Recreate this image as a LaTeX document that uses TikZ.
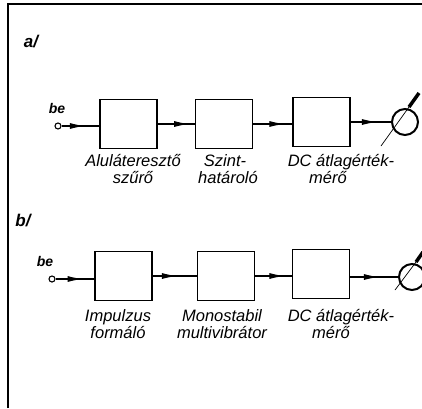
\documentclass[tikz,border=0pt]{standalone}
\usepackage{fontspec}
\setmainfont{Liberation Sans}
\usetikzlibrary{arrows.meta,decorations.markings}
\tikzset{
  x=1pt,y=-1pt,
  blk/.style={draw,line width=1.7pt,minimum width=57pt,minimum height=49pt,inner sep=0pt},
  lbl/.style={font=\itshape\fontsize{16.5}{16.5}\selectfont,align=center,anchor=base,inner sep=0pt},
  conn/.style={line width=1.1pt},
  midarrow/.style={postaction={decorate},decoration={markings,mark=at position #1 with {\arrow{Latex[length=15pt,width=6pt]}}}},
  terminal/.style={draw,circle,line width=1.1pt,minimum size=6pt,inner sep=0pt},
  meter/.style={draw,circle,line width=2pt,minimum size=26pt,inner sep=0pt},
  tag/.style={font=\itshape\bfseries\fontsize{17}{18}\selectfont,inner sep=0pt},
  betag/.style={font=\itshape\bfseries\fontsize{14}{15}\selectfont,inner sep=0pt}
}
\begin{document}
\begin{tikzpicture}
\useasboundingbox (0,0) rectangle (422,408);
\fill[white] (0,0) rectangle (422,408);
% frame
\draw[line width=1.3pt] (8,408) -- (8,4) -- (422,4);

% ---- part a
\node[tag] (ta) at (31,42) {a/};
\node[betag] (bea) at (57,108) {be};
\node[terminal] (ina) at (58,126) {};
\node[blk] (a1) at (128.5,124) {};
\node[blk] (a2) at (224,124) {};
\node[blk] (a3) at (321.5,122) {};
\node[meter] (ma) at (405,122) {};
\coordinate (ma1) at (381,146);
\coordinate (ma2) at (409,107);
\coordinate (ma3) at (419,93);
\draw[conn,midarrow=0.62] (ina) -- (a1.west |- ina);
\draw[conn,midarrow=0.85] (a1.east) -- (a2.west);
\draw[conn,midarrow=0.8] (a2.east) -- (a3.west |- a2.east);
\draw[conn,midarrow=0.65] (a3.east) -- (ma.west);
\draw[line width=0.7pt] (ma1) -- (ma2);
\draw[line width=3.5pt] (ma2) -- (ma3);
\node[lbl] (la1) at (133,183) {Aluláteresztő\\szűrő};
\node[lbl] (la2) at (225,183) {Szint-\\\hspace*{6pt}határoló};
\node[lbl] (la3) at (341,183) {DC átlagérték-\\mérő\hspace*{26pt}};

% ---- part b
\node[tag] (tb) at (23,221) {b/};
\node[betag] (beb) at (45,261) {be};
\node[terminal] (inb) at (52,279) {};
\node[blk] (b1) at (123.5,276) {};
\node[blk] (b2) at (226,276) {};
\node[blk] (b3) at (321,274) {};
\node[meter] (mb) at (412,277) {};
\coordinate (mb1) at (395,290);
\coordinate (mb2) at (416,262);
\coordinate (mb3) at (423,252);
\draw[conn,midarrow=0.7] (inb) -- (b1.west |- inb);
\draw[conn,midarrow=0.55] (b1.east) -- (b2.west);
\draw[conn,midarrow=0.8] (b2.east) -- (b3.west |- b2.east);
\draw[conn,midarrow=0.6] (b3.east |- mb) -- (mb.west);
\draw[line width=0.7pt] (mb1) -- (mb2);
\draw[line width=3.5pt] (mb2) -- (mb3);
\node[lbl] (lb1) at (118,338) {Impulzus\\formáló};
\node[lbl] (lb2) at (222,338) {Monostabil\\multivibrátor};
\node[lbl] (lb3) at (341,338) {DC átlagérték-\\mérő\hspace*{20pt}};
\end{tikzpicture}
\end{document}
